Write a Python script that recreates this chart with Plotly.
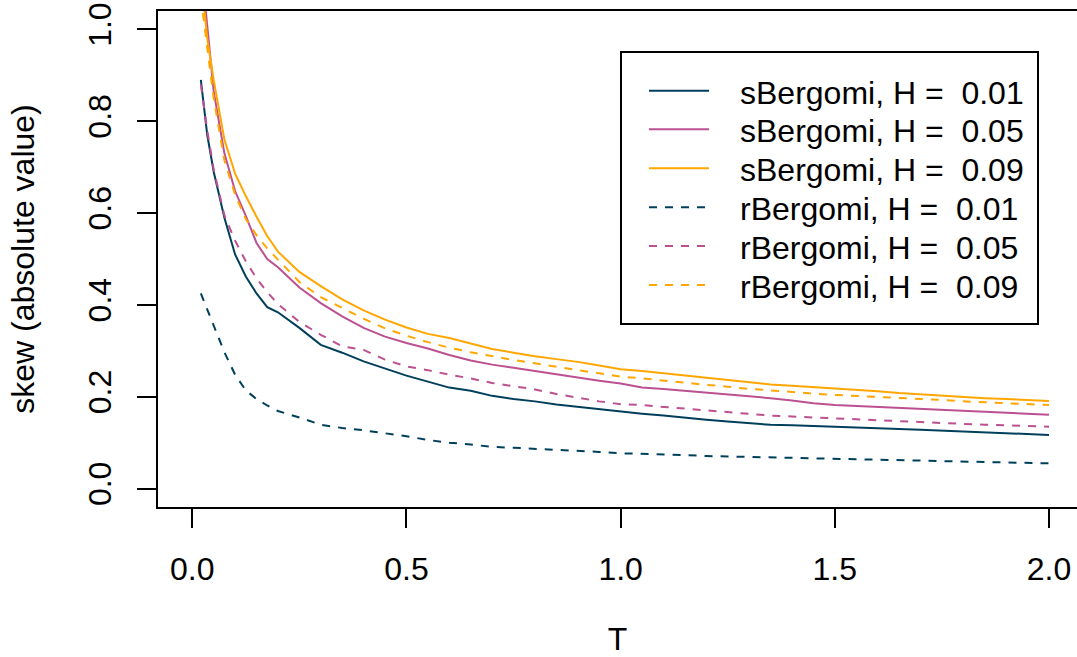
import plotly.graph_objects as go

# ---------------- data ----------------
T = [0.02, 0.035, 0.05, 0.075, 0.1, 0.125, 0.15, 0.175, 0.2,
     0.25, 0.3, 0.35, 0.4, 0.45, 0.5, 0.55, 0.6, 0.65, 0.7, 0.75, 0.8, 0.85, 0.9, 0.95, 1.0,
     1.05, 1.1, 1.15, 1.2, 1.25, 1.3, 1.35, 1.4, 1.45, 1.5, 1.55, 1.6, 1.65, 1.7, 1.75,
     1.8, 1.85, 1.9, 1.95, 2.0]

s_H001 = [0.89, 0.77, 0.69, 0.59, 0.51, 0.462, 0.425, 0.395, 0.384,
          0.350, 0.313, 0.296, 0.277, 0.262, 0.246, 0.233, 0.220, 0.213, 0.202, 0.195, 0.190,
          0.183, 0.178, 0.172, 0.167,
          0.163, 0.159, 0.154, 0.150, 0.146, 0.142, 0.139, 0.138, 0.137, 0.135, 0.133, 0.132,
          0.130, 0.128, 0.126, 0.124, 0.122, 0.120, 0.119, 0.117]
s_H005 = [1.15, 1.00, 0.865, 0.73, 0.648, 0.594, 0.535, 0.500, 0.482,
          0.438, 0.404, 0.375, 0.350, 0.331, 0.317, 0.305, 0.291, 0.279, 0.270, 0.263, 0.256,
          0.248, 0.242, 0.235, 0.229,
          0.220, 0.217, 0.213, 0.210, 0.206, 0.202, 0.197, 0.192, 0.186, 0.182, 0.180, 0.178,
          0.176, 0.174, 0.172, 0.170, 0.168, 0.166, 0.163, 0.161]
s_H009 = [1.12, 0.98, 0.89, 0.76, 0.686, 0.637, 0.592, 0.550, 0.516,
          0.472, 0.441, 0.412, 0.388, 0.368, 0.351, 0.337, 0.328, 0.316, 0.304, 0.296, 0.288,
          0.282, 0.276, 0.268, 0.260,
          0.256, 0.251, 0.246, 0.241, 0.237, 0.231, 0.227, 0.224, 0.221, 0.218, 0.216, 0.212,
          0.208, 0.205, 0.202, 0.199, 0.197, 0.195, 0.193, 0.191]
r_H001 = [0.425, 0.39, 0.357, 0.297, 0.248, 0.214, 0.195, 0.181, 0.169,
          0.155, 0.139, 0.132, 0.127, 0.121, 0.114, 0.106, 0.100, 0.096, 0.091, 0.089, 0.087,
          0.085, 0.083, 0.080, 0.077,
          0.076, 0.075, 0.073, 0.071, 0.070, 0.068, 0.068, 0.067, 0.066, 0.065, 0.064, 0.063,
          0.062, 0.061, 0.060, 0.059, 0.058, 0.057, 0.056, 0.055]
r_H005 = [0.88, 0.78, 0.695, 0.595, 0.54, 0.495, 0.458, 0.428, 0.402,
          0.363, 0.335, 0.310, 0.302, 0.281, 0.266, 0.258, 0.248, 0.240, 0.230, 0.223, 0.216,
          0.206, 0.198, 0.190, 0.184,
          0.182, 0.178, 0.174, 0.170, 0.166, 0.162, 0.159, 0.157, 0.155, 0.152, 0.150, 0.148,
          0.146, 0.145, 0.143, 0.141, 0.139, 0.138, 0.137, 0.135]
r_H009 = [1.07, 0.96, 0.85, 0.715, 0.64, 0.587, 0.552, 0.523, 0.498,
          0.450, 0.417, 0.394, 0.370, 0.349, 0.333, 0.319, 0.307, 0.297, 0.288, 0.280, 0.273,
          0.265, 0.258, 0.251, 0.244,
          0.240, 0.235, 0.230, 0.226, 0.222, 0.217, 0.214, 0.210, 0.207, 0.204, 0.202, 0.200,
          0.197, 0.195, 0.193, 0.190, 0.188, 0.186, 0.184, 0.182]

H_values = [0.01, 0.05, 0.09]
models = ["sBergomi", "rBergomi"]
x_ticks = [0.0, 0.5, 1.0, 1.5, 2.0]
x_ticklabels = ["0.0", "0.5", "1.0", "1.5", "2.0"]
y_ticks = [0.0, 0.2, 0.4, 0.6, 0.8, 1.0]
y_ticklabels = ["0.0", "0.2", "0.4", "0.6", "0.8", "1.0"]

series = [("sBergomi", 0.01, s_H001), ("sBergomi", 0.05, s_H005), ("sBergomi", 0.09, s_H009),
          ("rBergomi", 0.01, r_H001), ("rBergomi", 0.05, r_H005), ("rBergomi", 0.09, r_H009)]
for _, _, v in series:
    assert len(v) == len(T)

# ---------------- style ----------------
colors = {0.01: "#003f5c", 0.05: "#bc5090", 0.09: "#ffa600"}
dashes = {"sBergomi": "solid", "rBergomi": "8px,8px"}
LW = 2
FONT = "Liberation Sans, Arial, Helvetica, sans-serif"
FS = 32

W, Hh = 1077, 657
ML, MR, MT, MB = 158, 0, 11, 150
PW, PH = W - ML - MR, Hh - MT - MB

def px(xw):
    """window x pixel -> paper x"""
    return (xw - ML) / PW

def py(yw):
    """window y pixel -> paper y"""
    return (Hh - MB - yw) / PH

fig = go.Figure()
for model, h, vals in series:
    fig.add_trace(go.Scatter(
        x=T, y=vals, mode="lines",
        name=f"{model}, H =  {h:.2f}",
        line=dict(color=colors[h], width=LW, dash=dashes[model]),
        showlegend=False,
    ))

# ---------------- legend (drawn box in R style) ----------------
box = dict(x0=621, x1=1038, y0=52, y1=324)
rows_y = [90.7, 129.3, 168.3, 207.3, 246.0, 285.0]
line_x0, line_x1, text_x = 649, 709, 738

shapes = [dict(type="rect", xref="paper", yref="paper",
               x0=px(box["x0"]), x1=px(box["x1"]), y0=py(box["y1"]), y1=py(box["y0"]),
               line=dict(color="black", width=2), fillcolor="white", layer="above")]
annotations = []
for (model, h, _), ry in zip(series, rows_y):
    shapes.append(dict(type="line", xref="paper", yref="paper",
                       x0=px(line_x0), x1=px(line_x1), y0=py(ry), y1=py(ry),
                       line=dict(color=colors[h], width=LW, dash=dashes[model]),
                       layer="above"))
    annotations.append(dict(xref="paper", yref="paper", x=px(text_x), y=py(ry + 2),
                            xanchor="left", yanchor="middle", showarrow=False,
                            text=f"{model}, H =\u00a0 {h:.2f}",
                            font=dict(family=FONT, size=FS, color="black")))

fig.update_layout(
    width=W, height=Hh,
    margin=dict(l=ML, r=MR, t=MT, b=MB),
    paper_bgcolor="white", plot_bgcolor="white",
    font=dict(family=FONT, size=FS, color="black"),
    showlegend=False,
    shapes=shapes, annotations=annotations,
    xaxis=dict(
        range=[-0.08, 2.0654], tickmode="array", tickvals=x_ticks, ticktext=x_ticklabels,
        ticks="outside", ticklen=19, tickwidth=2, tickcolor="black",
        showline=True, linewidth=2, linecolor="black", mirror=True,
        showgrid=False, zeroline=False, ticklabelstandoff=14, ticklabeloverflow="allow",
        title=dict(text="T", standoff=49, font=dict(size=FS)),
        automargin=False,
    ),
    yaxis=dict(
        range=[-0.04, 1.04], tickmode="array", tickvals=y_ticks, ticktext=y_ticklabels,
        tickangle=-90,
        ticks="outside", ticklen=19, tickwidth=2, tickcolor="black",
        showline=True, linewidth=2, linecolor="black", mirror=False,
        showgrid=False, zeroline=False, ticklabelstandoff=13, ticklabeloverflow="allow",
        title=dict(text="skew (absolute value)", standoff=38, font=dict(size=FS)),
        automargin=False,
    ),
)

# remove the default 8px page margin so the figure fills the window exactly
fig.write_html("out.html",
               config={"displayModeBar": False},
               post_script="document.body.style.margin='0';document.body.style.overflow='hidden';")
